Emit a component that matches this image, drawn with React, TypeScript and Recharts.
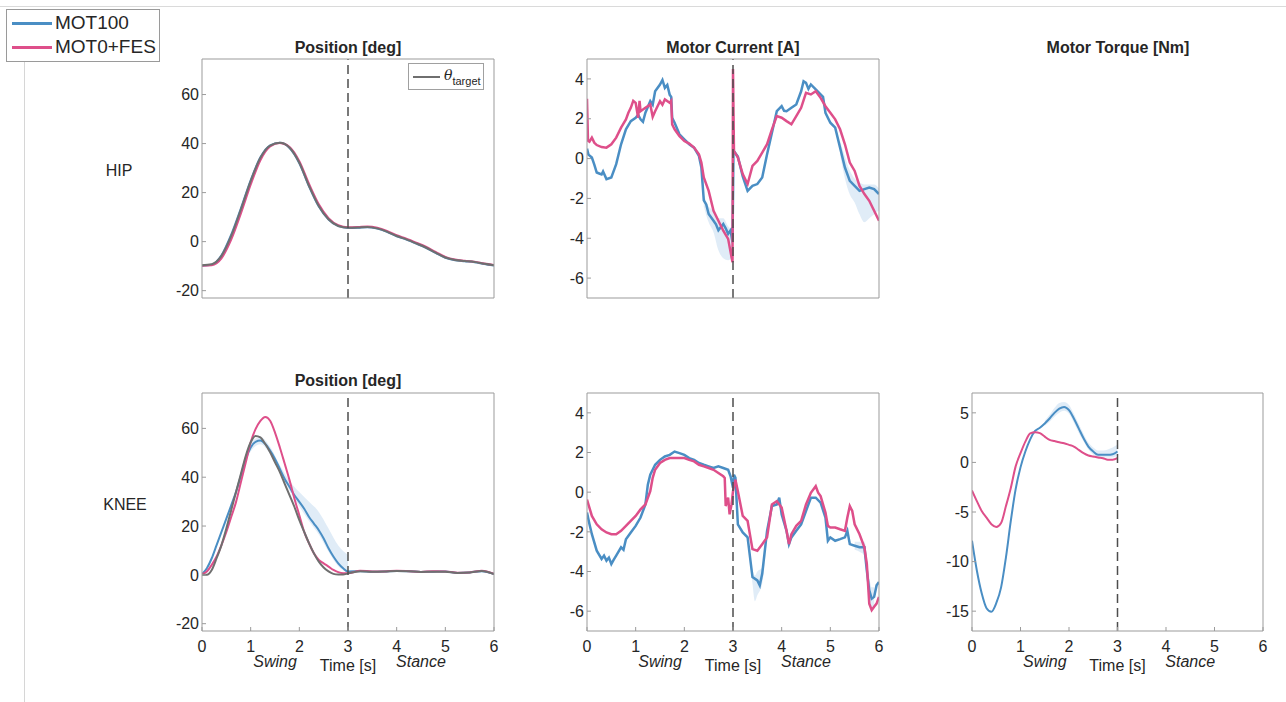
import React from "react";
import { ComposedChart, Line, Area, XAxis, YAxis, ReferenceLine } from "recharts";

const BLUE = "#4a8ec4";
const PINK = "#de4f8a";
const GREY = "#6f6f6f";
const BAND = "#d3e4f3";
const AXIS = "#9b9b9b";
const INK = "#262626";
const FONT = '"Liberation Sans", Arial, Helvetica, sans-serif';

const X_TICKS = [0, 1, 2, 3, 4, 5, 6];
const POS_TICKS = [-20, 0, 20, 40, 60];
const CUR_TICKS = [-6, -4, -2, 0, 2, 4];
const TRQ_TICKS = [-15, -10, -5, 0, 5];

// hip position, every 0.2 s
const hipT = [0, 0.2, 0.4, 0.6, 0.8, 1, 1.2, 1.4, 1.6, 1.8, 2, 2.2, 2.4, 2.6, 2.8, 3, 3.2, 3.4, 3.6, 3.8, 4, 4.2, 4.4, 4.6, 4.8, 5, 5.2, 5.4, 5.6, 5.8, 6];
const hipPosTarget = [-9.6, -9.2, -5.8, 2.3, 13.2, 24.7, 34.2, 39.2, 40.3, 38.3, 32.2, 22.7, 14.5, 9.1, 6.4, 5.7, 5.8, 6.0, 5.4, 4.1, 2.3, 0.9, -0.7, -2.4, -4.5, -6.5, -7.5, -7.9, -8.3, -9.0, -9.6];
const hipPosMot = [-9.8, -9.4, -5.6, 2.8, 13.6, 25.0, 34.4, 39.3, 40.3, 38.2, 32.0, 22.5, 14.3, 9.0, 6.3, 5.6, 5.7, 5.9, 5.3, 4.0, 2.2, 0.8, -0.8, -2.5, -4.6, -6.6, -7.6, -8.0, -8.4, -9.1, -9.7];
const hipPosFes = [-9.8, -9.6, -6.8, 0.8, 11.5, 23.2, 33.2, 38.8, 40.2, 38.6, 32.8, 23.5, 15.2, 9.6, 6.7, 5.9, 6.0, 6.2, 5.7, 4.4, 2.6, 1.2, -0.4, -2.1, -4.2, -6.2, -7.3, -7.8, -8.2, -8.9, -9.5];

// knee position
const kneeT = [0, 0.1, 0.2, 0.3, 0.4, 0.5, 0.6, 0.7, 0.8, 0.9, 1, 1.1, 1.2, 1.3, 1.4, 1.5, 1.6, 1.7, 1.8, 1.9, 2, 2.1, 2.2, 2.3, 2.4, 2.5, 2.6, 2.7, 2.8, 2.9, 3, 3.25, 3.5, 3.75, 4, 4.25, 4.5, 4.75, 5, 5.25, 5.5, 5.75, 6];
const kneePosMot = [0.3, 2.7, 6.8, 12.2, 17.6, 23, 28.5, 34, 40.7, 47.5, 52.2, 54.5, 55, 53.6, 50.9, 47.5, 43.4, 39.3, 36, 32.6, 29.9, 27.1, 23.7, 21, 18.3, 14.9, 10.9, 7.5, 4.7, 2.7, 1.4, 1.5, 1.3, 1.4, 1.6, 1.5, 1.2, 1.3, 1.4, 0.8, 1.0, 1.5, 0.3];
const kneePosFes = [0.3, 1.4, 4.1, 7.5, 12.2, 17.6, 23.7, 29.9, 38, 46.1, 54.3, 59.7, 63.1, 64.7, 63.1, 58.3, 52.2, 45.5, 38.7, 31.2, 24.4, 17.6, 12.9, 8.8, 6.1, 4.7, 3.4, 2.0, 1.1, 0.7, 0.7, 1.7, 1.4, 1.4, 1.7, 1.5, 1.2, 1.5, 1.4, 0.9, 1.0, 1.7, 0.4];
const kneePosTarget = [0, 0, 2.0, 6.8, 12.2, 19, 26.5, 34, 41.4, 48.8, 54.3, 56.9, 56.3, 53.6, 50.2, 46.1, 42.1, 37.3, 32.6, 27.8, 22.4, 17.6, 12.9, 8.8, 5.4, 3.0, 1.4, 0.4, 0.1, 0.1, 0.6, 1.5, 1.3, 1.4, 1.6, 1.5, 1.2, 1.3, 1.3, 0.8, 1.0, 1.6, 0.3];
const kneePosBand: [number, number, number][] = [[0.8, 39, 42.5], [1, 50.5, 54], [1.2, 53.5, 56.5], [1.4, 49.5, 52.5], [1.6, 42, 45], [1.8, 34.5, 38.5], [2, 28, 33.9], [2.2, 22, 29.9], [2.4, 16.5, 25.8], [2.6, 9.5, 19], [2.8, 3.5, 12], [3, 0.8, 8.1]];

// hip motor current [t, A]
const hipCurMot: [number, number][] = [[0, 0.5], [0.03, 0.2], [0.1, 0.05], [0.15, -0.3], [0.2, -0.7], [0.25, -0.75], [0.3, -0.8], [0.33, -0.65], [0.4, -1.03], [0.5, -0.95], [0.6, -0.28], [0.7, 0.72], [0.8, 1.47], [0.9, 1.88], [1, 2.05], [1.05, 2.2], [1.1, 1.97], [1.15, 1.85], [1.2, 2.3], [1.3, 2.88], [1.35, 2.7], [1.4, 3.38], [1.5, 3.72], [1.55, 3.95], [1.6, 3.55], [1.65, 3.7], [1.7, 3.2], [1.73, 3.1], [1.75, 2.05], [1.8, 1.8], [1.9, 1.22], [2, 0.97], [2.1, 0.72], [2.2, 0.55], [2.3, 0.13], [2.35, -0.45], [2.4, -2.1], [2.45, -2.3], [2.5, -2.78], [2.6, -3.12], [2.65, -3.3], [2.7, -3.6], [2.8, -3.28], [2.85, -3.5], [2.9, -3.78], [2.95, -3.6], [2.99, -4.2], [3.01, 0.4], [3.1, 0.1], [3.2, -0.9], [3.3, -1.62], [3.4, -1.37], [3.5, -1.28], [3.6, -0.95], [3.7, 0.22], [3.8, 1.3], [3.9, 2.38], [4, 2.63], [4.05, 2.4], [4.1, 2.38], [4.2, 2.55], [4.3, 2.72], [4.4, 3.38], [4.45, 3.88], [4.5, 3.8], [4.55, 3.5], [4.6, 3.72], [4.7, 3.47], [4.8, 3.22], [4.85, 3.1], [4.9, 2.3], [5, 1.8], [5.1, 1.55], [5.2, 0.55], [5.3, -0.45], [5.4, -1.12], [5.5, -1.37], [5.6, -1.62], [5.7, -1.53], [5.8, -1.45], [5.9, -1.53], [6, -1.78]];
const hipCurFes: [number, number][] = [[0, 3.0], [0.02, 0.9], [0.05, 0.85], [0.1, 1.05], [0.15, 0.8], [0.2, 0.68], [0.3, 0.58], [0.4, 0.55], [0.5, 0.72], [0.6, 1.05], [0.7, 1.55], [0.8, 1.97], [0.85, 2.3], [0.9, 2.55], [0.95, 2.9], [1, 2.8], [1.05, 2.05], [1.08, 2.9], [1.1, 2.38], [1.2, 2.55], [1.3, 2.72], [1.35, 2.1], [1.4, 2.38], [1.5, 2.88], [1.55, 2.7], [1.6, 2.97], [1.7, 2.8], [1.73, 2.9], [1.75, 1.72], [1.8, 1.47], [1.9, 1.13], [2, 0.88], [2.1, 0.75], [2.2, 0.55], [2.3, 0.22], [2.35, -0.2], [2.4, -0.95], [2.5, -1.62], [2.6, -2.62], [2.7, -3.12], [2.8, -3.62], [2.9, -4.03], [2.97, -4.95], [2.99, -5.2], [3, 4.5], [3.02, 0.38], [3.1, 0.05], [3.2, -0.78], [3.3, -1.28], [3.4, -0.37], [3.5, -0.12], [3.6, 0.3], [3.7, 0.72], [3.8, 1.47], [3.9, 2.13], [4, 2.05], [4.1, 1.88], [4.2, 1.72], [4.3, 2.13], [4.4, 2.55], [4.5, 3.3], [4.6, 3.22], [4.7, 3.38], [4.8, 3.05], [4.9, 2.63], [5, 2.3], [5.1, 1.97], [5.2, 1.47], [5.3, 0.72], [5.4, -0.2], [5.5, -0.62], [5.6, -1.37], [5.7, -1.78], [5.8, -2.12], [5.9, -2.62], [6, -3.12]];
const hipCurBandA: [number, number, number][] = [[2.4, -2.4, -1.8], [2.5, -3.2, -2.4], [2.6, -3.7, -2.6], [2.7, -4.6, -3.0], [2.8, -5.0, -3.0], [2.9, -5.1, -3.4], [2.99, -4.9, -3.6]];
const hipCurBandB: [number, number, number][] = [[5.2, 0.2, 0.9], [5.3, -1.0, 0.1], [5.4, -1.8, -0.6], [5.5, -2.2, -1.0], [5.6, -2.8, -1.2], [5.7, -3.2, -1.3], [5.8, -3.0, -1.3], [5.9, -2.8, -1.3], [6, -2.6, -1.5]];

// knee motor current [t, A]
const kneeCurMot: [number, number][] = [[0, -1.03], [0.05, -1.6], [0.1, -2.12], [0.2, -2.95], [0.3, -3.37], [0.35, -3.2], [0.4, -3.45], [0.45, -3.3], [0.5, -3.62], [0.55, -3.4], [0.6, -3.2], [0.7, -2.78], [0.75, -2.9], [0.8, -2.37], [0.9, -2.03], [1, -1.7], [1.1, -1.28], [1.2, -0.62], [1.25, 0.38], [1.3, 0.88], [1.4, 1.38], [1.5, 1.63], [1.6, 1.8], [1.7, 1.88], [1.8, 2.05], [1.9, 1.97], [2, 1.88], [2.1, 1.72], [2.2, 1.63], [2.3, 1.47], [2.4, 1.38], [2.5, 1.3], [2.6, 1.22], [2.7, 1.3], [2.8, 1.22], [2.9, 1.13], [2.95, 0.8], [3, 0.22], [3.02, 0.88], [3.05, 0.72], [3.1, -1.62], [3.2, -2.03], [3.3, -2.28], [3.4, -4.28], [3.5, -4.45], [3.55, -4.7], [3.6, -4.12], [3.7, -1.95], [3.8, -0.7], [3.9, -0.62], [3.95, -0.28], [4, -1.12], [4.1, -1.95], [4.15, -2.62], [4.2, -2.28], [4.3, -1.95], [4.4, -1.62], [4.5, -0.95], [4.6, -0.28], [4.7, -0.28], [4.8, -0.53], [4.9, -1.28], [4.95, -2.45], [5, -2.28], [5.1, -2.45], [5.2, -2.37], [5.3, -2.28], [5.35, -1.95], [5.4, -2.62], [5.5, -2.7], [5.6, -2.78], [5.7, -2.78], [5.75, -3.95], [5.8, -4.95], [5.85, -5.37], [5.9, -5.28], [5.95, -4.7], [6, -4.53]];
const kneeCurFes: [number, number][] = [[0, -0.37], [0.1, -1.2], [0.2, -1.62], [0.3, -1.87], [0.4, -2.03], [0.5, -2.12], [0.6, -2.12], [0.7, -1.95], [0.8, -1.7], [0.9, -1.45], [1, -1.2], [1.1, -0.87], [1.2, -0.62], [1.3, 0.05], [1.35, 0.72], [1.4, 1.13], [1.5, 1.47], [1.6, 1.63], [1.7, 1.72], [1.8, 1.72], [1.9, 1.72], [2, 1.72], [2.1, 1.63], [2.2, 1.55], [2.3, 1.38], [2.4, 1.3], [2.5, 1.22], [2.6, 1.13], [2.7, 0.97], [2.8, 0.8], [2.83, 0.72], [2.85, -0.7], [2.9, -0.28], [2.93, -1.12], [2.97, -0.62], [3, 0.05], [3.05, 0.63], [3.1, 0.05], [3.2, -1.2], [3.3, -1.45], [3.4, -2.87], [3.5, -2.95], [3.6, -2.62], [3.7, -2.28], [3.8, -0.62], [3.9, -0.45], [4, -0.78], [4.1, -1.95], [4.15, -2.62], [4.2, -2.12], [4.3, -1.7], [4.4, -1.45], [4.5, -0.62], [4.6, -0.03], [4.7, 0.3], [4.75, -0.03], [4.8, -0.2], [4.9, -1.03], [4.95, -1.7], [5, -1.78], [5.1, -1.78], [5.2, -1.87], [5.3, -1.95], [5.35, -1.28], [5.4, -0.7], [5.45, -0.95], [5.5, -1.62], [5.6, -2.12], [5.7, -2.78], [5.75, -3.62], [5.8, -5.62], [5.85, -5.95], [5.9, -5.78], [5.95, -5.62], [6, -5.28]];
const kneeCurBandA: [number, number, number][] = [[3.3, -2.5, -2.1], [3.4, -4.6, -3.9], [3.45, -5.5, -4.2], [3.5, -5.2, -4.0], [3.6, -4.6, -3.8], [3.7, -2.2, -1.7]];
const kneeCurBandB: [number, number, number][] = [[5.5, -2.9, -2.5], [5.6, -3.0, -2.5], [5.7, -3.2, -2.5], [5.8, -5.6, -4.3], [5.85, -5.9, -4.8], [5.9, -5.7, -4.8]];

// knee motor torque, every 0.1 s over the swing phase
const torqueT = [0, 0.1, 0.2, 0.3, 0.4, 0.5, 0.6, 0.7, 0.8, 0.9, 1, 1.1, 1.2, 1.3, 1.4, 1.5, 1.6, 1.7, 1.8, 1.9, 2, 2.1, 2.2, 2.3, 2.4, 2.5, 2.6, 2.7, 2.8, 2.9, 3];
const torqueMot = [-7.9, -10.9, -13.2, -14.7, -15.07, -14.2, -12.6, -9.57, -5.9, -2.7, -0.5, 1.1, 2.33, 3.17, 3.5, 3.93, 4.43, 5.0, 5.43, 5.6, 5.27, 4.43, 3.43, 2.43, 1.6, 1.1, 0.77, 0.77, 0.77, 0.83, 1.1];
const torqueFes = [-2.83, -3.9, -4.9, -5.57, -6.23, -6.5, -6.1, -4.4, -2.57, -0.4, 0.93, 2.1, 2.93, 3.05, 2.95, 2.6, 2.27, 2.15, 2.03, 1.93, 1.77, 1.6, 1.27, 0.93, 0.7, 0.6, 0.5, 0.43, 0.27, 0.27, 0.43];
const torqueBand: [number, number, number][] = [[1.5, 3.7, 4.2], [1.6, 4.1, 4.8], [1.7, 4.6, 5.5], [1.8, 5.0, 6.0], [1.9, 5.2, 6.1], [2, 4.9, 5.8], [2.1, 4.0, 4.9], [2.2, 3.0, 3.9], [2.3, 2.1, 2.9], [2.4, 1.3, 2.0], [2.5, 0.8, 1.5], [2.6, 0.5, 1.2], [2.7, 0.5, 1.2], [2.8, 0.5, 1.3], [2.9, 0.5, 1.5], [3, 0.7, 1.8]];

type Pt = [number, number];
type Rng = [number, number, number];
type Series = { pts: Pt[]; color: string; curve: "linear" | "monotone"; width: number };

const zip = (ts: number[], vs: number[]): Pt[] => ts.map((t, i) => [t, vs[i]]);
const rows = (pts: Pt[]) => pts.map(([t, v]) => ({ t, v }));
const bandRows = (b: Rng[]) => b.map(([t, lo, hi]) => ({ t, r: [lo, hi] }));

const txt = { fill: INK, fontSize: 16 };

function Panel(props: {
  x: number; y: number; w: number; h: number;
  domain: [number, number]; ticks: number[]; labels: boolean;
  series: Series[]; bands: Rng[][];
}) {
  const { x, y, w, h, domain, ticks, labels, series, bands } = props;
  return (
    <div style={{ position: "absolute", left: x - 50, top: y - 30 }}>
      <ComposedChart width={w + 60} height={h + 80} margin={{ top: 29, right: 9, bottom: 0, left: 0 }}>
        <XAxis dataKey="t" type="number" domain={[0, 6]} ticks={X_TICKS} allowDataOverflow height={50}
          stroke={AXIS} tickSize={-4} tickMargin={14} tick={labels ? txt : false}
          label={labels ? { value: "Time [s]", position: "insideBottom", offset: 10, ...txt } : undefined} />
        <XAxis xAxisId="top" orientation="top" type="number" domain={[0, 6]} ticks={X_TICKS} allowDataOverflow
          height={1} stroke={AXIS} tickSize={-4} tick={false} />
        <YAxis type="number" domain={domain} ticks={ticks} allowDataOverflow width={50}
          stroke={AXIS} tickSize={-4} tickMargin={7} tick={txt} />
        <YAxis yAxisId="right" orientation="right" type="number" domain={domain} ticks={ticks} allowDataOverflow
          width={1} stroke={AXIS} tickSize={-4} tick={false} />
        {bands.map((b, i) => (
          <Area key={"b" + i} data={bandRows(b)} dataKey="r" type="monotone" stroke="none"
            fill={BAND} fillOpacity={0.7} isAnimationActive={false} />
        ))}
        {series.map((s, i) => (
          <Line key={"s" + i} data={rows(s.pts)} dataKey="v" type={s.curve} stroke={s.color}
            strokeWidth={s.width} dot={false} activeDot={false} isAnimationActive={false} />
        ))}
        <ReferenceLine x={3} stroke="#4d4d4d" strokeWidth={1.5} strokeDasharray="9 5" />
        {labels && (
          <ReferenceLine x={1.5} strokeOpacity={0}
            label={{ value: "Swing", position: "bottom", offset: 25, fontStyle: "italic", ...txt }} />
        )}
        {labels && (
          <ReferenceLine x={4.5} strokeOpacity={0}
            label={{ value: "Stance", position: "bottom", offset: 25, fontStyle: "italic", ...txt }} />
        )}
      </ComposedChart>
    </div>
  );
}

function Txt({ x, y, children, bold = false, size = 16 }: { x: number; y: number; children: React.ReactNode; bold?: boolean; size?: number }) {
  return (
    <div style={{ position: "absolute", left: x, top: y, transform: "translate(-50%, -50%)", fontSize: size,
      fontWeight: bold ? 700 : 400, whiteSpace: "nowrap", lineHeight: 1 }}>
      {children}
    </div>
  );
}

const POS_DOMAIN: [number, number] = [-23, 74.5];

export default function App() {
  return (
    <div style={{ position: "absolute", left: 0, top: 0, width: 1286, height: 702, background: "#fff",
      fontFamily: FONT, color: INK, overflow: "hidden" }}>
      <div style={{ position: "absolute", left: 0, top: 6, width: 1286, height: 1, background: "#dadada" }} />
      <div style={{ position: "absolute", left: 24, top: 62, width: 1, height: 640, background: "#d6d6d6" }} />

      <div style={{ position: "absolute", left: 6, top: 9, width: 152, height: 51, border: "1px solid #9a9a9a", background: "#fff" }}>
        {[["MOT100", BLUE, 13], ["MOT0+FES", PINK, 37]].map(([name, c, cy]) => (
          <div key={name as string}>
            <div style={{ position: "absolute", left: 5, top: (cy as number) - 1.5, width: 40, height: 3, background: c as string }} />
            <div style={{ position: "absolute", left: 48, top: (cy as number) - 10, fontSize: 19, lineHeight: "20px", whiteSpace: "nowrap" }}>{name}</div>
          </div>
        ))}
      </div>

      <Txt x={348} y={48} bold>Position [deg]</Txt>
      <Txt x={733} y={48} bold>Motor Current [A]</Txt>
      <Txt x={1118} y={48} bold>Motor Torque [Nm]</Txt>
      <Txt x={348} y={381} bold>Position [deg]</Txt>
      <Txt x={119} y={171}>HIP</Txt>
      <Txt x={125} y={505}>KNEE</Txt>

      <Panel x={202} y={59} w={292} h={239} domain={POS_DOMAIN} ticks={POS_TICKS} labels={false} bands={[]}
        series={[
          { pts: zip(hipT, hipPosMot), color: BLUE, curve: "monotone", width: 2 },
          { pts: zip(hipT, hipPosFes), color: PINK, curve: "monotone", width: 2 },
          { pts: zip(hipT, hipPosTarget), color: GREY, curve: "monotone", width: 2 },
        ]} />
      <div style={{ position: "absolute", left: 408, top: 63, width: 74, height: 25, border: "1px solid #a0a0a0", background: "#fff" }}>
        <div style={{ position: "absolute", left: 4, top: 12, width: 27, height: 2, background: GREY }} />
        <div style={{ position: "absolute", left: 35, top: 3, fontSize: 14, lineHeight: "16px", whiteSpace: "nowrap" }}>
          <span style={{ fontStyle: "italic", fontFamily: '"DejaVu Serif", serif' }}>θ</span>
          <span style={{ fontSize: 11, position: "relative", top: 5 }}>target</span>
        </div>
      </div>

      <Panel x={587} y={59} w={292} h={239} domain={[-7, 5]} ticks={CUR_TICKS} labels={false}
        bands={[hipCurBandA, hipCurBandB]}
        series={[
          { pts: hipCurMot, color: BLUE, curve: "linear", width: 2.5 },
          { pts: hipCurFes, color: PINK, curve: "linear", width: 2.5 },
        ]} />

      <Panel x={202} y={393} w={292} h={238} domain={POS_DOMAIN} ticks={POS_TICKS} labels
        bands={[kneePosBand]}
        series={[
          { pts: zip(kneeT, kneePosMot), color: BLUE, curve: "monotone", width: 2 },
          { pts: zip(kneeT, kneePosFes), color: PINK, curve: "monotone", width: 2 },
          { pts: zip(kneeT, kneePosTarget), color: GREY, curve: "monotone", width: 2 },
        ]} />

      <Panel x={587} y={393} w={292} h={238} domain={[-7, 5]} ticks={CUR_TICKS} labels
        bands={[kneeCurBandA, kneeCurBandB]}
        series={[
          { pts: kneeCurMot, color: BLUE, curve: "linear", width: 2.5 },
          { pts: kneeCurFes, color: PINK, curve: "linear", width: 2.5 },
        ]} />

      <Panel x={972} y={393} w={291} h={238} domain={[-17, 7]} ticks={TRQ_TICKS} labels
        bands={[torqueBand]}
        series={[
          { pts: zip(torqueT, torqueMot), color: BLUE, curve: "monotone", width: 2 },
          { pts: zip(torqueT, torqueFes), color: PINK, curve: "monotone", width: 2 },
        ]} />
    </div>
  );
}
